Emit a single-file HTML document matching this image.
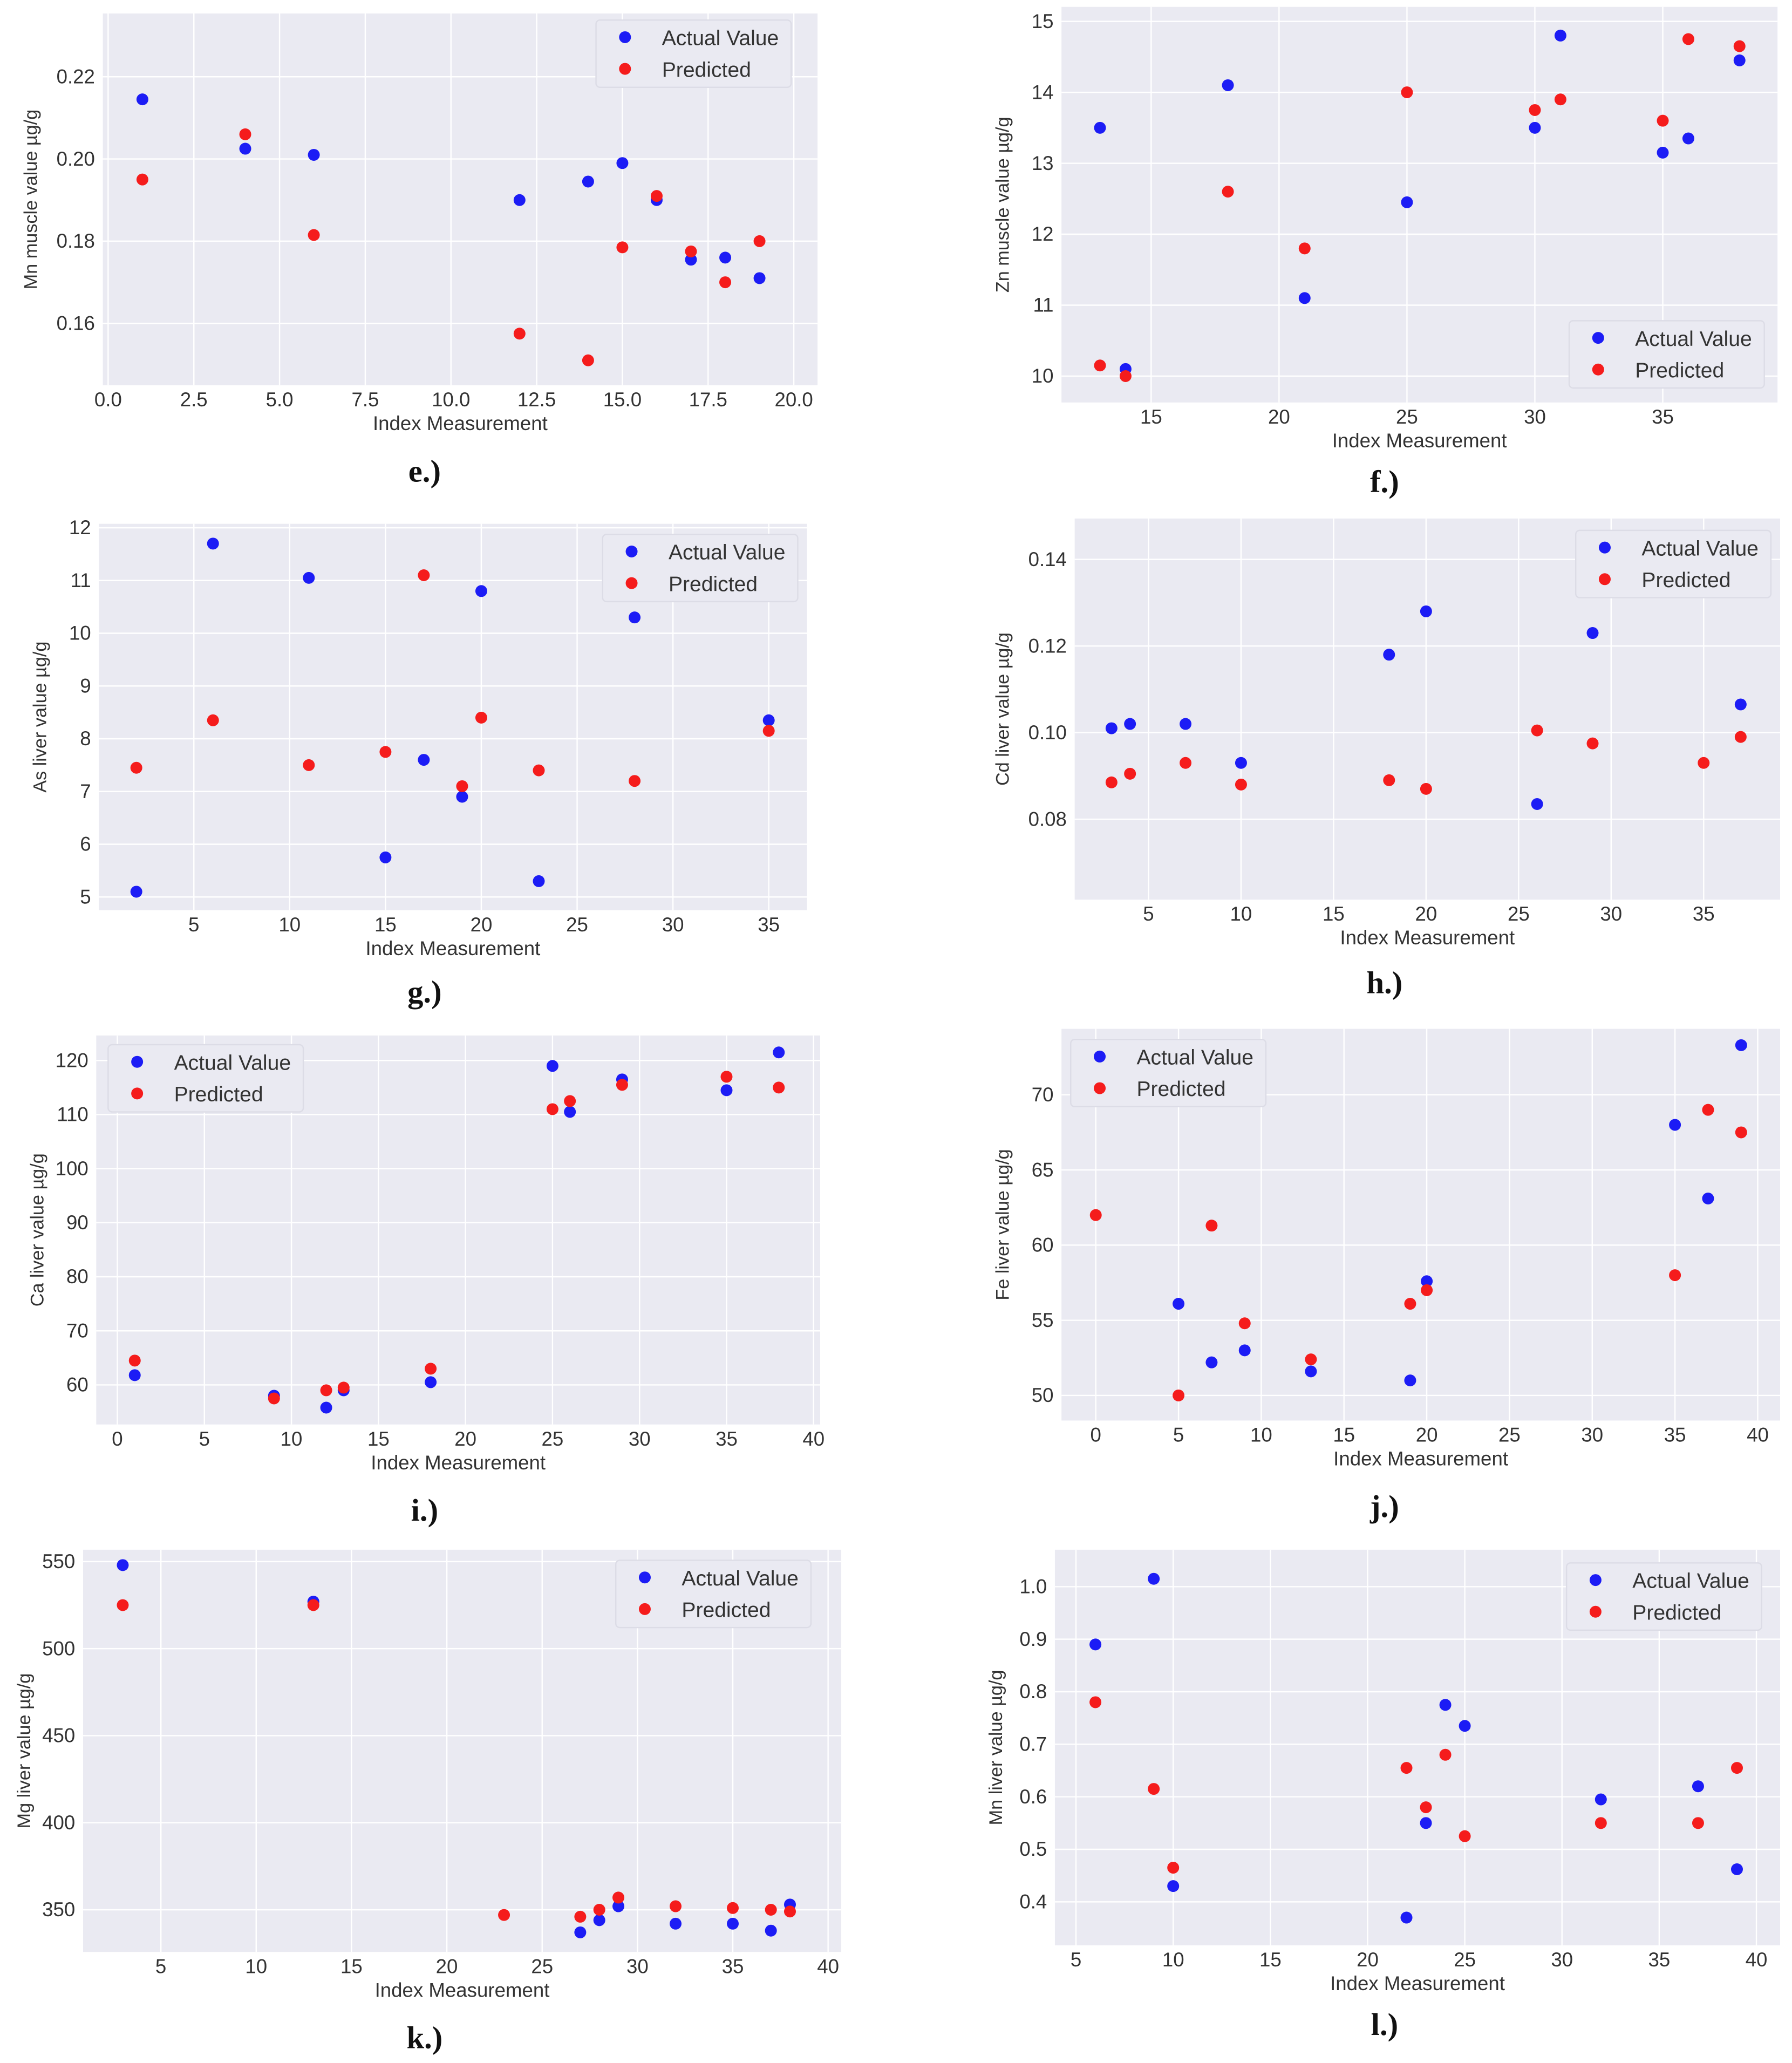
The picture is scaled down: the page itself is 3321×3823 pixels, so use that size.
<!DOCTYPE html>
<html><head><meta charset="utf-8"><style>
html,body{margin:0;padding:0;background:#fff;}
svg{display:block;}
text{font-family:"Liberation Sans",sans-serif;fill:#333;}
.lbl{font-family:"Liberation Serif",serif;font-weight:bold;fill:#111;}
</style></head><body>
<svg id="fig" width="3321" height="3823" viewBox="0 0 1359 1564" xmlns="http://www.w3.org/2000/svg"></svg>
<script>
// ---- data ----
const eX=[1,4,6,12,14,15,16,17,18,19];
const eA=[0.2145,0.2025,0.201,0.190,0.1945,0.199,0.190,0.1755,0.176,0.171];
const eP=[0.195,0.206,0.1815,0.1575,0.151,0.1785,0.191,0.1775,0.170,0.180];
const fX=[13,14,18,21,25,30,31,35,36,38];
const fA=[13.5,10.1,14.1,11.1,12.45,13.5,14.8,13.15,13.35,14.45];
const fP=[10.15,10.0,12.6,11.8,14.0,13.75,13.9,13.6,14.75,14.65];
const gX=[2,6,11,15,17,19,20,23,28,35];
const gA=[5.1,11.7,11.05,5.75,7.6,6.9,10.8,5.3,10.3,8.35];
const gP=[7.45,8.35,7.5,7.75,11.1,7.1,8.4,7.4,7.2,8.15];
const hXA=[3,4,7,10,18,20,26,29,37];
const hA=[0.101,0.102,0.102,0.093,0.118,0.128,0.0835,0.123,0.1065];
const hXP=[3,4,7,10,18,20,26,29,35,37];
const hP=[0.0885,0.0905,0.093,0.088,0.089,0.087,0.1005,0.0975,0.093,0.099];
const iX=[1,9,12,13,18,25,26,29,35,38];
const iA=[61.8,58,55.8,59,60.5,119,110.5,116.5,114.5,121.5];
const iP=[64.5,57.5,59,59.5,63,111,112.5,115.5,117,115];
const jXA=[5,7,9,13,19,20,35,37,39];
const jA=[56.1,52.2,53,51.6,51,57.6,68,63.1,73.3];
const jXP=[0,5,7,9,13,19,20,35,37,39];
const jP=[62,50,61.3,54.8,52.4,56.1,57,58,69,67.5];
const kXA=[3,13,27,28,29,32,35,37,38];
const kA=[548,527,337,344,352,342,342,338,353];
const kXP=[3,13,23,27,28,29,32,35,37,38];
const kP=[525,525,347,346,350,357,352,351,350,349];
const lX=[6,9,10,22,23,24,25,32,37,39];
const lA=[0.89,1.015,0.43,0.37,0.55,0.775,0.735,0.595,0.62,0.462];
const lP=[0.78,0.615,0.465,0.655,0.58,0.68,0.525,0.55,0.55,0.655];
const eXT=["0.0","2.5","5.0","7.5","10.0","12.5","15.0","17.5","20.0"];
const eYT=["0.16","0.18","0.20","0.22"];
const fXT=["15","20","25","30","35"], fYT=["10","11","12","13","14","15"];
const gXT=["5","10","15","20","25","30","35"], gYT=["5","6","7","8","9","10","11","12"];
const hXT=["5","10","15","20","25","30","35"], hYT=["0.08","0.10","0.12","0.14"];
const iXT=["0","5","10","15","20","25","30","35","40"], iYT=["60","70","80","90","100","110","120"];
const jXT=["0","5","10","15","20","25","30","35","40"], jYT=["50","55","60","65","70"];
const kXT=["5","10","15","20","25","30","35","40"], kYT=["350","400","450","500","550"];
const lXT=["5","10","15","20","25","30","35","40"], lYT=["0.4","0.5","0.6","0.7","0.8","0.9","1.0"];

// ---- layout ----
const panels=[
 {id:'e',L:78,R:620,T:10,B:292,x0:0,px0:82,x1:20,px1:602,y0:0.16,py0:245,y1:0.22,py1:58,xA:eX,A:eA,xP:eX,P:eP,xt:eXT,yt:eYT,yl:'Mn muscle value µg/g',leg:[452,15],lab:[322,357]},
 {id:'f',L:805,R:1348,T:5,B:305,x0:15,px0:873,x1:35,px1:1261,y0:10,py0:285,y1:15,py1:16,xA:fX,A:fA,xP:fX,P:fP,xt:fXT,yt:fYT,yl:'Zn muscle value µg/g',leg:[1190,243],lab:[1050,365]},
 {id:'g',L:75,R:612,T:397,B:690,x0:5,px0:147,x1:35,px1:583,y0:5,py0:680,y1:12,py1:400,xA:gX,A:gA,xP:gX,P:gP,xt:gXT,yt:gYT,yl:'As  liver value µg/g',leg:[457,405],lab:[322,752]},
 {id:'h',L:815,R:1350,T:393,B:682,x0:5,px0:871,x1:35,px1:1292,y0:0.08,py0:621,y1:0.14,py1:424,xA:hXA,A:hA,xP:hXP,P:hP,xt:hXT,yt:hYT,yl:'Cd  liver value µg/g',leg:[1195,402],lab:[1050,745]},
 {id:'i',L:73,R:622,T:785,B:1080,x0:0,px0:89,x1:40,px1:617,y0:60,py0:1050,y1:120,py1:804,xA:iX,A:iA,xP:iX,P:iP,xt:iXT,yt:iYT,yl:'Ca  liver value µg/g',leg:[82,792],lab:[322,1145]},
 {id:'j',L:805,R:1350,T:780,B:1077,x0:0,px0:831,x1:40,px1:1333,y0:50,py0:1058,y1:70,py1:830,xA:jXA,A:jA,xP:jXP,P:jP,xt:jXT,yt:jYT,yl:'Fe  liver value µg/g',leg:[812,788],lab:[1050,1142]},
 {id:'k',L:63,R:638,T:1175,B:1480,x0:5,px0:122,x1:40,px1:628,y0:350,py0:1448,y1:550,py1:1184,xA:kXA,A:kA,xP:kXP,P:kP,xt:kXT,yt:kYT,yl:'Mg liver value µg/g',leg:[467,1183],lab:[322,1545]},
 {id:'l',L:800,R:1350,T:1175,B:1475,x0:5,px0:816,x1:40,px1:1332,y0:0.4,py0:1442,y1:1.0,py1:1203,xA:lX,A:lA,xP:lX,P:lP,xt:lXT,yt:lYT,yl:'Mn liver value µg/g',leg:[1188,1185],lab:[1050,1535]}
];
const NS='http://www.w3.org/2000/svg';
const svg=document.getElementById('fig');
function mk(tag,attrs,parent,txt){const el=document.createElementNS(NS,tag);for(const k in attrs)el.setAttribute(k,attrs[k]);if(txt!==undefined)el.textContent=txt;parent.appendChild(el);return el;}
panels.forEach(p=>{
 const g=mk('g',{},svg);
 
 
 const sx=v=>p.px0+(v-p.x0)*(p.px1-p.px0)/(p.x1-p.x0);
 const sy=v=>p.py0+(v-p.y0)*(p.py1-p.py0)/(p.y1-p.y0);
 const bg=mk('rect',{x:p.L,y:p.T,width:p.R-p.L,height:p.B-p.T,fill:'#eaeaf2'},g);
 
 
 p.xt.forEach(t=>{const x=sx(parseFloat(t));
  mk('line',{x1:x,x2:x,y1:p.T,y2:p.B,stroke:'#fff','stroke-width':1},g);
  const tl=mk('text',{x:x,y:p.B+16,'font-size':15,'text-anchor':'middle'},g,t);
  
  });
 p.yt.forEach(t=>{const y=sy(parseFloat(t));
  mk('line',{x1:p.L,x2:p.R,y1:y,y2:y,stroke:'#fff','stroke-width':1},g);
  const tl=mk('text',{x:p.L-6,y:y+5,'font-size':15,'text-anchor':'end'},g,t);
  
  });
 const xl=mk('text',{x:(p.L+p.R)/2,y:p.B+34,'font-size':15,'text-anchor':'middle'},g,'Index Measurement');
 
 
 const yx=p.L-(p.yt[0].length>3?50:40), yc=(p.T+p.B)/2;
 const yl=mk('text',{x:yx,y:yc,'font-size':14,'text-anchor':'middle',transform:`rotate(-90 ${yx} ${yc})`},g,p.yl);
 
 
 p.A.forEach((v,i)=>{const c=mk('circle',{cx:sx(p.xA[i]),cy:sy(v),r:4.5,fill:'#1c1cf5'},g);
  
  });
 p.P.forEach((v,i)=>{const c=mk('circle',{cx:sx(p.xP[i]),cy:sy(v),r:4.5,fill:'#f51c1c'},g);
  
  });
 const lg=mk('g',{},g);
 
 
 const [lx,ly]=p.leg;
 mk('rect',{x:lx,y:ly,width:148,height:51,rx:3,fill:'#eaeaf2',stroke:'#dcdce6'},lg);
 mk('circle',{cx:lx+22,cy:ly+13,r:4.5,fill:'#1c1cf5'},lg);
 mk('circle',{cx:lx+22,cy:ly+37,r:4.5,fill:'#f51c1c'},lg);
 const t1=mk('text',{x:lx+50,y:ly+19,'font-size':16},lg,'Actual Value');
 
 
 const t2=mk('text',{x:lx+50,y:ly+43,'font-size':16},lg,'Predicted');
 
 
 const lb=mk('text',{x:p.lab[0],y:p.lab[1]+8,'font-size':24,'text-anchor':'middle',class:'lbl'},g,p.id+'.)');
 
 
});
</script>
</body></html>
